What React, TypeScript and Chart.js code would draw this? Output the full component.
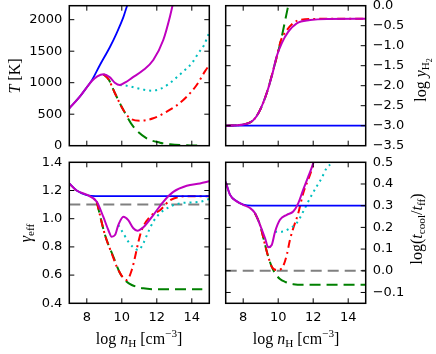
import React, { useEffect, useRef } from "react";
import { Chart, registerables } from "chart.js";
Chart.register(...registerables);

// ---------- tick values ----------
const xTicks = [8, 10, 12, 14];
const tTicks = [0, 500, 1000, 1500, 2000];
const yH2Ticks = [-3.5, -3.0, -2.5, -2.0, -1.5, -1.0, -0.5, 0.0];
const gammaTicks = [0.4, 0.6, 0.8, 1.0, 1.2, 1.4];
const tcoolTicks = [-0.1, 0.0, 0.1, 0.2, 0.3, 0.4, 0.5];

// ---------- panel 1: T [K] ----------
const tBlueX = [7, 7.6, 8.0, 8.3, 8.75, 9.33, 9.7, 10.1, 10.3, 10.5];
const tBlueY = [594, 778, 927, 1043, 1281, 1571, 1784, 2048, 2222, 2400];
const tMagX = [7, 7.6, 8.0, 8.3, 8.6, 8.95, 9.3, 9.6, 9.88, 10.2, 10.6, 11.23, 11.8, 12.37, 12.75, 13.0];
const tMagY = [594, 778, 927, 1030, 1100, 1135, 1090, 1000, 963, 1005, 1080, 1200, 1360, 1678, 2048, 2350];
const tCyanX = [9.88, 10.37, 10.85, 11.23, 11.71, 12.18, 12.66, 13.14, 13.61, 14.0, 14.37, 14.7, 15.0];
const tCyanY = [963, 948, 915, 890, 873, 900, 975, 1085, 1202, 1308, 1467, 1598, 1800];
const tRedX = [8.95, 9.25, 9.61, 10.09, 10.47, 11.04, 11.8, 12.57, 13.14, 13.71, 14.28, 14.75, 15.0];
const tRedY = [1135, 1050, 832, 567, 435, 397, 435, 540, 640, 778, 963, 1180, 1280];
const tGreenX = [8.95, 9.25, 9.61, 10.09, 10.66, 11.42, 12.18, 12.75, 13.9, 14.6];
const tGreenY = [1135, 1050, 832, 567, 302, 117, 48, 22, 5, 2];

// ---------- panel 2: log y_H2 ----------
const hBlueX = [7, 15];
const hBlueY = [-3.0, -3.0];
const hMagX = [7, 8.0, 8.58, 8.96, 9.34, 9.63, 9.91, 10.2, 10.58, 11.06, 11.82, 12.77, 15];
const hMagY = [-3.0, -2.97, -2.86, -2.61, -2.19, -1.77, -1.27, -0.94, -0.65, -0.44, -0.36, -0.33, -0.325];
const hRedX = [7, 8.0, 8.58, 8.96, 9.34, 9.63, 9.87, 10.16, 10.48, 10.9, 11.3, 12.0, 15];
const hRedY = [-3.0, -2.97, -2.86, -2.61, -2.19, -1.75, -1.36, -0.86, -0.62, -0.42, -0.35, -0.33, -0.325];
const hGreenX = [7, 8.0, 8.58, 8.96, 9.34, 9.63, 9.87, 10.16, 10.52, 10.7];
const hGreenY = [-3.0, -2.97, -2.86, -2.61, -2.19, -1.75, -1.36, -0.86, -0.11, 0.25];

// ---------- panel 3: gamma_eff ----------
const gBlueX = [7, 7.42, 7.99, 8.5, 15];
const gBlueY = [1.25, 1.2, 1.168, 1.16, 1.16];
const gMagX = [7, 7.42, 7.99, 8.57, 8.94, 9.23, 9.42, 9.61, 9.8, 10.09, 10.37, 10.66, 10.89, 11.23, 11.8, 12.37, 12.94, 13.71, 14.47, 15];
const gMagY = [1.25, 1.2, 1.17, 1.12, 1.014, 0.92, 0.872, 0.884, 0.955, 1.014, 0.99, 0.932, 0.915, 0.939, 1.026, 1.12, 1.19, 1.234, 1.25, 1.265];
const gCyanX = [9.8, 10.09, 10.37, 10.66, 10.95, 11.23, 11.52, 11.8, 12.18, 12.75, 13.33, 13.9, 14.47, 15];
const gCyanY = [0.955, 0.896, 0.837, 0.797, 0.778, 0.826, 0.908, 0.979, 1.038, 1.085, 1.109, 1.115, 1.12, 1.14];
const gRedX = [8.57, 9.04, 9.42, 9.8, 10.28, 10.57, 10.76, 10.95, 11.14, 11.61, 12.18, 12.75, 13.33, 13.9, 15];
const gRedY = [1.12, 0.884, 0.755, 0.636, 0.565, 0.636, 0.73, 0.837, 0.92, 1.014, 1.06, 1.13, 1.156, 1.16, 1.16];
const gGreenX = [8.57, 9.04, 9.52, 9.9, 10.28, 10.57, 11.23, 12, 13, 14, 14.6];
const gGreenY = [1.12, 0.884, 0.73, 0.613, 0.553, 0.53, 0.506, 0.5, 0.5, 0.5, 0.5];
const gRefX = [7, 15];
const gRefY = [1.1, 1.1];

// ---------- panel 4: log(t_cool/t_ff) ----------
const cBlueX = [7, 7.25, 7.63, 8.0, 8.5, 15];
const cBlueY = [0.41, 0.35, 0.32, 0.305, 0.3, 0.3];
const cMagX = [7, 7.25, 7.63, 8.0, 8.39, 8.67, 8.96, 9.25, 9.43, 9.63, 9.82, 10.1, 10.49, 10.86, 11.15, 11.43, 11.72, 11.91, 12.1];
const cMagY = [0.41, 0.35, 0.32, 0.304, 0.289, 0.266, 0.212, 0.15, 0.108, 0.119, 0.18, 0.235, 0.258, 0.273, 0.312, 0.374, 0.435, 0.474, 0.52];
const cCyanX = [9.82, 10.2, 10.67, 11.05, 11.43, 11.82, 12.2, 12.49, 12.77, 13.1, 13.3];
const cCyanY = [0.18, 0.18, 0.196, 0.219, 0.273, 0.335, 0.389, 0.428, 0.474, 0.5, 0.53];
const cRedX = [8.67, 8.96, 9.25, 9.43, 9.63, 9.91, 10.2, 10.49, 10.67, 10.86, 11.15, 11.43, 11.82, 12.05, 12.2];
const cRedY = [0.266, 0.212, 0.119, 0.065, 0.019, 0.003, 0.01, 0.073, 0.142, 0.196, 0.266, 0.358, 0.443, 0.5, 0.54];
const cGreenX = [8.67, 8.96, 9.25, 9.43, 9.63, 9.82, 10.1, 10.39, 10.86, 11.5, 15];
const cGreenY = [0.266, 0.212, 0.119, 0.065, 0.019, -0.012, -0.038, -0.051, -0.062, -0.065, -0.065];
const cRefX = [7, 15];
const cRefY = [0.0, 0.0];

// ---------- styling ----------
const W = 436;
const H = 354;
const BLUE = "#0000ff";
const MAG = "#bf00bf";
const CYAN = "#00bfbf";
const RED = "#ff0000";
const GREEN = "#008000";
const GRAY = "#808080";
const FONT_TICK = '"DejaVu Sans", sans-serif';
const FONT_LABEL = '"Liberation Serif", "DejaVu Serif", serif';
const LABEL_SIZE = 16;

const DASHED = [11, 6];
const DASHDOT = [8, 4, 2, 4];
const DOTTED = [2, 4];

type Seg = { t: string; it?: boolean; lv?: number };
type Series = { xs: number[]; ys: number[]; color: string; dash: number[]; width: number };
type Panel = {
  frame: [number, number, number, number]; // left, top, right, bottom
  yMin: number;
  yMax: number;
  yTicks: number[];
  yDec: number;
  ySide: "left" | "right";
  showX: boolean;
  series: Series[];
  yLabel: Seg[];
  yLabelPos: [number, number];
  xLabelPos?: [number, number];
};

function fmt(dec: number) {
  return (v: number) => {
    const s = Math.abs(v).toFixed(dec);
    return (v < -1e-9 ? "\u2212" : "") + s;
  };
}

function drawRich(ctx: CanvasRenderingContext2D, segs: Seg[], cx: number, cy: number, rot: number, size: number) {
  ctx.save();
  ctx.translate(cx, cy);
  ctx.rotate(rot);
  ctx.fillStyle = "#000";
  ctx.textBaseline = "alphabetic";
  ctx.textAlign = "left";
  const sc = (lv: number) => (lv === 0 ? 1 : lv === -2 ? 0.5 : 0.7);
  const off = (lv: number) => (lv === -1 ? 0.22 : lv === -2 ? 0.38 : lv === 1 ? -0.42 : 0);
  const font = (s: Seg) => `${s.it ? "italic " : ""}${(size * sc(s.lv ?? 0)).toFixed(2)}px ${FONT_LABEL}`;
  let total = 0;
  const ws = segs.map((s) => {
    ctx.font = font(s);
    const w = ctx.measureText(s.t).width;
    total += w;
    return w;
  });
  let x = -total / 2;
  segs.forEach((s, i) => {
    ctx.font = font(s);
    ctx.fillText(s.t, x, size * 0.3 + off(s.lv ?? 0) * size);
    x += ws[i];
  });
  ctx.restore();
}

const xTitle: Seg[] = [
  { t: "log " },
  { t: "n", it: true },
  { t: "H", lv: -1 },
  { t: " [cm" },
  { t: "\u22123", lv: 1 },
  { t: "]" },
];

const LEFT_COL: [number, number] = [69.3, 209.3];
const RIGHT_COL: [number, number] = [225.7, 365.7];
const TOP_ROW: [number, number] = [5.7, 145.7];
const BOT_ROW: [number, number] = [162.3, 303.3];

const panels: Panel[] = [
  {
    frame: [LEFT_COL[0], TOP_ROW[0], LEFT_COL[1], TOP_ROW[1]],
    yMin: 0,
    yMax: 2222,
    yTicks: tTicks,
    yDec: 0,
    ySide: "left",
    showX: false,
    series: [
      { xs: tMagX, ys: tMagY, color: MAG, dash: [], width: 2 },
      { xs: tBlueX, ys: tBlueY, color: BLUE, dash: [], width: 1.8 },
      { xs: tCyanX, ys: tCyanY, color: CYAN, dash: DOTTED, width: 2 },
      { xs: tRedX, ys: tRedY, color: RED, dash: DASHDOT, width: 2 },
      { xs: tGreenX, ys: tGreenY, color: GREEN, dash: DASHED, width: 2 },
    ],
    yLabel: [{ t: "T", it: true }, { t: " [K]" }],
    yLabelPos: [15, 76],
  },
  {
    frame: [RIGHT_COL[0], TOP_ROW[0], RIGHT_COL[1], TOP_ROW[1]],
    yMin: -3.5,
    yMax: 0,
    yTicks: yH2Ticks,
    yDec: 1,
    ySide: "right",
    showX: false,
    series: [
      { xs: hMagX, ys: hMagY, color: MAG, dash: [], width: 2 },
      { xs: hBlueX, ys: hBlueY, color: BLUE, dash: [], width: 1.8 },
      { xs: hRedX, ys: hRedY, color: RED, dash: DASHDOT, width: 2 },
      { xs: hGreenX, ys: hGreenY, color: GREEN, dash: DASHED, width: 2 },
    ],
    yLabel: [{ t: "log " }, { t: "y", it: true }, { t: "H", lv: -1 }, { t: "2", lv: -2 }],
    yLabelPos: [421, 80],
  },
  {
    frame: [LEFT_COL[0], BOT_ROW[0], LEFT_COL[1], BOT_ROW[1]],
    yMin: 0.4,
    yMax: 1.4,
    yTicks: gammaTicks,
    yDec: 1,
    ySide: "left",
    showX: true,
    series: [
      { xs: gMagX, ys: gMagY, color: MAG, dash: [], width: 2 },
      { xs: gBlueX, ys: gBlueY, color: BLUE, dash: [], width: 1.8 },
      { xs: gCyanX, ys: gCyanY, color: CYAN, dash: DOTTED, width: 2 },
      { xs: gRedX, ys: gRedY, color: RED, dash: DASHDOT, width: 2 },
      { xs: gGreenX, ys: gGreenY, color: GREEN, dash: DASHED, width: 2 },
      { xs: gRefX, ys: gRefY, color: GRAY, dash: DASHED, width: 2 },
    ],
    yLabel: [{ t: "\u03b3", it: true }, { t: "eff", lv: -1 }],
    yLabelPos: [26, 233],
    xLabelPos: [139, 339],
  },
  {
    frame: [RIGHT_COL[0], BOT_ROW[0], RIGHT_COL[1], BOT_ROW[1]],
    yMin: -0.15,
    yMax: 0.5,
    yTicks: tcoolTicks,
    yDec: 1,
    ySide: "right",
    showX: true,
    series: [
      { xs: cMagX, ys: cMagY, color: MAG, dash: [], width: 2 },
      { xs: cBlueX, ys: cBlueY, color: BLUE, dash: [], width: 1.8 },
      { xs: cCyanX, ys: cCyanY, color: CYAN, dash: DOTTED, width: 2 },
      { xs: cRedX, ys: cRedY, color: RED, dash: DASHDOT, width: 2 },
      { xs: cGreenX, ys: cGreenY, color: GREEN, dash: DASHED, width: 2 },
      { xs: cRefX, ys: cRefY, color: GRAY, dash: DASHED, width: 2 },
    ],
    yLabel: [
      { t: "log(" },
      { t: "t", it: true },
      { t: "cool", lv: -1 },
      { t: "/" },
      { t: "t", it: true },
      { t: "ff", lv: -1 },
      { t: ")" },
    ],
    yLabelPos: [417, 229],
    xLabelPos: [296, 339],
  },
];

function PanelChart({ p }: { p: Panel }) {
  const ref = useRef<HTMLCanvasElement>(null);
  useEffect(() => {
    const [l, t, r, b] = p.frame;
    const yBox = p.ySide === "left" ? l : W - r;
    const xBox = p.showX ? H - b : 0;
    const deco = {
      id: "deco",
      afterDatasetsDraw(chart: any) {
        const ctx: CanvasRenderingContext2D = chart.ctx;
        const a = chart.chartArea;
        const xs = chart.scales.x;
        const ys = chart.scales.y;
        const tl = 5;
        ctx.save();
        ctx.strokeStyle = "#000";
        ctx.lineWidth = 1;
        ctx.beginPath();
        for (const v of xTicks) {
          const px = xs.getPixelForValue(v);
          ctx.moveTo(px, a.bottom);
          ctx.lineTo(px, a.bottom - tl);
          ctx.moveTo(px, a.top);
          ctx.lineTo(px, a.top + tl);
        }
        for (const v of p.yTicks) {
          const py = ys.getPixelForValue(v);
          if (py < a.top + 1 || py > a.bottom - 1) continue;
          ctx.moveTo(a.left, py);
          ctx.lineTo(a.left + tl, py);
          ctx.moveTo(a.right, py);
          ctx.lineTo(a.right - tl, py);
        }
        ctx.stroke();
        ctx.lineWidth = 1.5;
        ctx.strokeRect(a.left, a.top, a.right - a.left, a.bottom - a.top);
        ctx.restore();
        drawRich(ctx, p.yLabel, p.yLabelPos[0], p.yLabelPos[1], -Math.PI / 2, LABEL_SIZE);
        if (p.xLabelPos) drawRich(ctx, xTitle, p.xLabelPos[0], p.xLabelPos[1], 0, LABEL_SIZE);
      },
    };
    const fitBox = (which: "w" | "h", size: number) => (scale: any) => {
      if (which === "w") scale.width = size;
      else scale.height = size;
      scale.paddingTop = 0;
      scale.paddingBottom = 0;
      scale.paddingLeft = 0;
      scale.paddingRight = 0;
    };
    const chart = new Chart(ref.current as HTMLCanvasElement, {
      type: "line",
      data: {
        datasets: p.series.map((s) => ({
          data: s.xs.map((x, i) => ({ x, y: s.ys[i] })),
          borderColor: s.color,
          borderWidth: s.width,
          borderDash: s.dash,
          pointRadius: 0,
          fill: false,
          cubicInterpolationMode: "monotone" as const,
        })),
      },
      options: {
        responsive: false,
        animation: false,
        devicePixelRatio: 1,
        layout: {
          padding: {
            left: p.ySide === "left" ? 0 : l,
            top: t,
            right: p.ySide === "right" ? 0 : W - r,
            bottom: p.showX ? 0 : H - b,
          },
        },
        plugins: { legend: { display: false }, tooltip: { enabled: false } },
        events: [],
        scales: {
          x: {
            type: "linear",
            position: "bottom",
            min: 7,
            max: 15,
            grid: { display: false, drawTicks: false },
            border: { display: false },
            afterBuildTicks: (scale: any) => {
              scale.ticks = xTicks.map((v) => ({ value: v }));
            },
            afterFit: fitBox("h", xBox),
            ticks: {
              display: p.showX,
              padding: 7,
              color: "#000",
              font: { family: FONT_TICK, size: 13 },
              maxRotation: 0,
              autoSkip: false,
              callback: (v: any) => String(v),
            },
          },
          y: {
            type: "linear",
            position: p.ySide,
            min: p.yMin,
            max: p.yMax,
            grid: { display: false, drawTicks: false },
            border: { display: false },
            afterBuildTicks: (scale: any) => {
              scale.ticks = p.yTicks.map((v) => ({ value: v }));
            },
            afterFit: fitBox("w", yBox),
            ticks: {
              padding: 7,
              color: "#000",
              font: { family: FONT_TICK, size: 13 },
              autoSkip: false,
              callback: (v: any) => fmt(p.yDec)(Number(v)),
            },
          },
        },
      },
      plugins: [deco],
    } as any);
    return () => chart.destroy();
  }, []);
  return (
    <canvas
      ref={ref}
      width={W}
      height={H}
      style={{ position: "absolute", left: 0, top: 0, width: W, height: H }}
    />
  );
}

export default function App() {
  return (
    <div style={{ position: "absolute", left: 0, top: 0, width: W, height: H, background: "#fff" }}>
      {panels.map((p, i) => (
        <PanelChart key={i} p={p} />
      ))}
    </div>
  );
}
